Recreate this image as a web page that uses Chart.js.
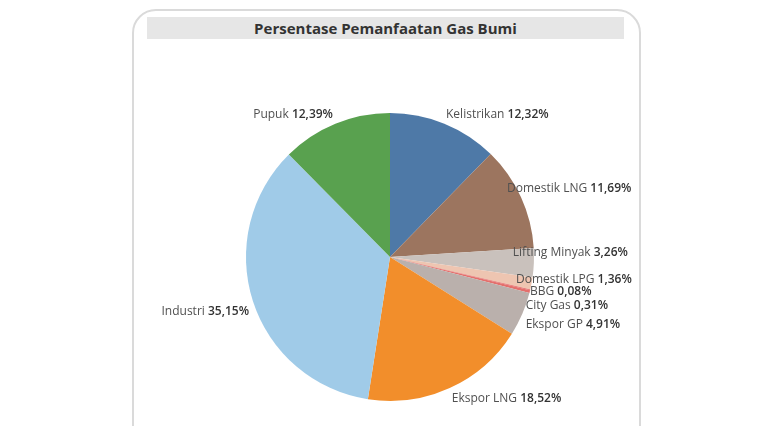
<!DOCTYPE html>
<html>
<head>
<meta charset="utf-8">
<script src="https://cdn.jsdelivr.net/npm/chart.js@4.4.1/dist/chart.umd.min.js"></script>
<style>
  html, body { margin:0; padding:0; background:#ffffff; width:769px; height:426px; overflow:hidden; }
  #card { position:absolute; left:132px; top:9px; width:509px; height:460px;
          border:2px solid #dadada; border-radius:24px; box-sizing:border-box; background:#fff; }
  #title { position:absolute; left:147px; top:17px; width:477px; height:22px; background:#e6e6e6;
           font-family:"Open Sans", sans-serif; font-weight:700; font-size:15px; color:#333;
           text-align:center; line-height:22px; }
  #wrap { position:absolute; left:0; top:0; width:769px; height:426px; }
</style>
</head>
<body>
<div id="card"></div>
<div id="title">Persentase Pemanfaatan Gas Bumi</div>
<div id="wrap"><canvas id="c" width="769" height="426"></canvas></div>
<script>
// ---- data ----
const categories = ["Kelistrikan","Domestik LNG","Lifting Minyak","Domestik LPG","BBG","City Gas","Ekspor GP","Ekspor LNG","Industri","Pupuk"];
const shares = [12.32, 11.69, 3.26, 1.36, 0.08, 0.31, 4.91, 18.52, 35.15, 12.39];
const valueLabels = ["12,32%","11,69%","3,26%","1,36%","0,08%","0,31%","4,91%","18,52%","35,15%","12,39%"];

// ---- styles ----
const sliceColors = ["#4e79a7","#9c755f","#c9c1bc","#eec5b1","#e15759","#e36f6c","#bab0ac","#f28e2b","#a0cbe8","#59a14f"];
// label placement relative to pie centre, in units of the radius
const labelFx = [0.389, 0.8125, 0.853, 0.875, 0.972, 0.942, 0.942, 0.429, -0.979, -0.396];
const labelFy = [-0.986, -0.472, -0.028, 0.160, 0.243, 0.340, 0.472, 0.986, 0.380, -0.986];
const labelAlign = ["left","left","left","left","left","left","left","left","right","right"];

const labelPlugin = {
  id: 'sliceLabels',
  afterDatasetsDraw(chart) {
    const ctx = chart.ctx;
    const meta = chart.getDatasetMeta(0);
    ctx.save();
    ctx.textBaseline = 'middle';
    meta.data.forEach((arc, i) => {
      const p = arc.getProps(['x','y','outerRadius'], true);
      const x = p.x + p.outerRadius * labelFx[i];
      const y = p.y + p.outerRadius * labelFy[i];
      const nameFont = '400 12px "Open Sans", sans-serif';
      const valFont = '600 12px "Open Sans", sans-serif';
      ctx.font = nameFont;
      const nameTxt = categories[i] + ' ';
      const nw = ctx.measureText(nameTxt).width;
      ctx.font = valFont;
      const vw = ctx.measureText(valueLabels[i]).width;
      let sx = labelAlign[i] === 'left' ? x : x - nw - vw;
      ctx.textAlign = 'left';
      ctx.font = nameFont;
      ctx.fillStyle = '#505050';
      ctx.fillText(nameTxt, sx, y);
      ctx.font = valFont;
      ctx.fillStyle = '#333333';
      ctx.fillText(valueLabels[i], sx + nw, y);
    });
    ctx.restore();
  }
};

new Chart(document.getElementById('c'), {
  type: 'pie',
  data: {
    labels: categories,
    datasets: [{
      data: shares,
      backgroundColor: sliceColors,
      borderWidth: 0
    }]
  },
  options: {
    responsive: false,
    animation: false,
    events: [],
    layout: { padding: { top: 113, bottom: 25, left: 200, right: 189 } },
    plugins: { legend: { display: false }, tooltip: { enabled: false }, title: { display: false } }
  },
  plugins: [labelPlugin]
});
</script>
</body>
</html>
